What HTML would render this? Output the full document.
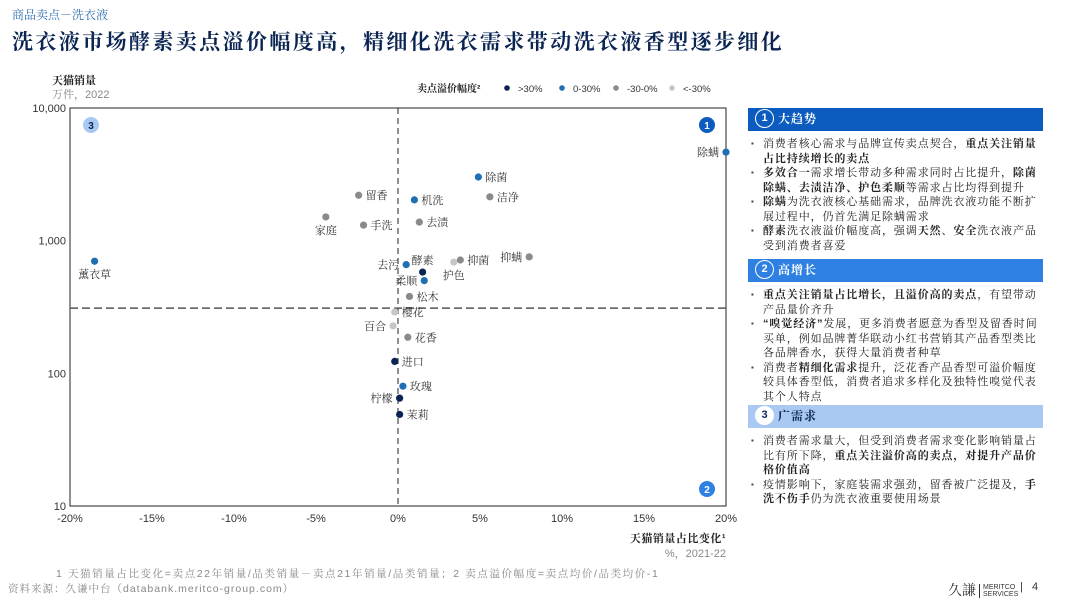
<!DOCTYPE html>
<html><head><meta charset="utf-8">
<style>
body{margin:0;width:1080px;height:607px;background:#fff;position:relative;overflow:hidden;font-family:"Liberation Sans","Noto Serif CJK SC","Noto Sans CJK SC",serif;}
.abs{position:absolute;}
.hdr{position:absolute;left:748px;width:295px;height:23px;color:#fff;font-size:12px;font-weight:bold;line-height:23px;letter-spacing:1px;}
.circ{display:inline-block;width:17px;height:17px;border:1.5px solid #fff;border-radius:50%;text-align:center;line-height:17px;font-size:11px;margin:1px 4px 0 7px;vertical-align:top;letter-spacing:0;}
ul{position:absolute;left:750px;width:296px;margin:0;padding:0;list-style:none;font-size:11px;letter-spacing:0.9px;line-height:14.5px;color:#222;}
li{padding-left:13px;position:relative;}
li:before{content:"▪";position:absolute;left:1px;font-size:8px;color:#444;}
b{font-weight:bold;}
</style></head><body>
<div class="abs" style="left:12px;top:6px;font-size:12px;color:#2f6fb0;">商品卖点－洗衣液</div>
<div class="abs" style="left:12px;top:26px;font-size:21px;font-weight:bold;color:#0b2553;letter-spacing:2.4px;">洗衣液市场酵素卖点溢价幅度高，精细化洗衣需求带动洗衣液香型逐步细化</div>
<div class="abs" style="left:52px;top:72px;font-size:11px;font-weight:bold;color:#222;">天猫销量</div>
<div class="abs" style="left:52px;top:86px;font-size:11px;color:#888;">万件，2022</div>
<svg id="chart" class="abs" style="left:0;top:0" width="740" height="560"></svg>
<div class="abs" style="left:580px;top:530px;width:146px;text-align:right;font-size:11px;font-weight:bold;color:#222;letter-spacing:0.5px;">天猫销量占比变化¹</div>
<div class="abs" style="left:600px;top:545px;width:126px;text-align:right;font-size:11px;color:#888;">%，2021-22</div>

<div class="hdr" style="top:108px;background:#0b5cbe;"><span class="circ">1</span>大趋势</div>
<ul style="top:137px;">
<li>消费者核心需求与品牌宣传卖点契合，<b>重点关注销量占比持续增长的卖点</b></li>
<li><b>多效合一</b>需求增长带动多种需求同时占比提升，<b>除菌除螨、去渍洁净、护色柔顺</b>等需求占比均得到提升</li>
<li><b>除螨</b>为洗衣液核心基础需求，品牌洗衣液功能不断扩展过程中，仍首先满足除螨需求</li>
<li><b>酵素</b>洗衣液溢价幅度高，强调<b>天然</b>、<b>安全</b>洗衣液产品受到消费者喜爱</li>
</ul>
<div class="hdr" style="top:259px;background:#2f80e3;"><span class="circ">2</span>高增长</div>
<ul style="top:288px;">
<li><b>重点关注销量占比增长，且溢价高的卖点</b>，有望带动产品量价齐升</li>
<li><b>“嗅觉经济”</b>发展，更多消费者愿意为香型及留香时间买单，例如品牌菁华联动小红书营销其产品香型类比各品牌香水，获得大量消费者种草</li>
<li>消费者<b>精细化需求</b>提升，泛花香产品香型可溢价幅度较具体香型低，消费者追求多样化及独特性嗅觉代表其个人特点</li>
</ul>
<div class="hdr" style="top:405px;background:#a9c9f2;color:#0b2553;"><span class="circ" style="background:#fff;color:#0b2553;border-color:#fff;">3</span>广需求</div>
<ul style="top:434px;">
<li>消费者需求量大，但受到消费者需求变化影响销量占比有所下降，<b>重点关注溢价高的卖点，对提升产品价格价值高</b></li>
<li>疫情影响下，家庭装需求强劲，留香被广泛提及，<b>手洗不伤手</b>仍为洗衣液重要使用场景</li>
</ul>

<div class="abs" style="left:56px;top:566px;font-size:10.5px;color:#888;letter-spacing:1.6px;">1 天猫销量占比变化=卖点22年销量/品类销量－卖点21年销量/品类销量；2 卖点溢价幅度=卖点均价/品类均价-1</div>
<div class="abs" style="left:8px;top:581px;font-size:10.5px;color:#888;letter-spacing:1px;">资料来源：久谦中台（databank.meritco-group.com）</div>
<div class="abs" style="left:948px;top:580px;font-size:14px;color:#333;">久謙<span style="display:inline-block;font-size:7px;line-height:7px;border-left:1px solid #333;padding-left:3px;margin-left:3px;vertical-align:middle;">MERITCO<br>SERVICES</span></div>
<div class="abs" style="left:1020px;top:581px;font-size:11px;color:#333;">|&nbsp;&nbsp;&nbsp;4</div>

<script>
const labels=["除螨","除菌","洁净","留香","机洗","家庭","手洗","去渍","薰衣草","抑螨","抑菌","护色","去污","酵素","柔顺","松木","樱花","百合","花香","进口","玫瑰","柠檬","茉莉"];
const shareChange=[20,4.9,5.6,-2.4,1.0,-4.4,-2.1,1.3,-18.5,8.0,3.8,3.4,0.5,1.5,1.6,0.7,-0.2,-0.3,0.6,-0.2,0.3,0.1,0.1];
const sales=[4650,3020,2140,2200,2030,1510,1310,1380,700,755,715,690,660,580,500,380,290,228,187,123,80,65,49];
const premiumGroup=[1,1,2,2,1,2,2,2,1,2,2,3,1,0,1,2,3,3,2,0,1,0,0];
const labelSide=["l","r","r","r","r","b","r","r","b","l","r","b","l","tr","l","r","r","l","r","r","r","l","r"];
const groupNames=[">30%","0-30%","-30-0%","<-30%"];
const xTicks=[-20,-15,-10,-5,0,5,10,15,20];
const yTicks=[10,100,1000,10000];
const dividerX=0, dividerY=310;
const colors=["#0b2553","#1f6fb2","#8a8a8a","#c6c6c6"];
const L=70,R=726,T=108,B=506;
const sx=v=>L+(v+20)/40*(R-L);
const sy=v=>B-(Math.log10(v)-1)/3*(B-T);
const svg=document.getElementById('chart');const NS="http://www.w3.org/2000/svg";
function mk(t,a,p){const e=document.createElementNS(NS,t);for(const k in a)e.setAttribute(k,a[k]);(p||svg).appendChild(e);return e;}
let e=mk('rect',{x:L,y:T,width:R-L,height:B-T,fill:'none',stroke:'#222','stroke-width':1});


e=mk('line',{x1:sx(dividerX),x2:sx(dividerX),y1:T,y2:B,stroke:'#222','stroke-dasharray':'6,4'});


e=mk('line',{x1:L,x2:R,y1:sy(dividerY),y2:sy(dividerY),stroke:'#555','stroke-width':1.5,'stroke-dasharray':'8,4'});


xTicks.forEach(t=>{const tx=mk('text',{x:sx(t),y:B+16,'text-anchor':'middle','font-size':11,fill:'#333'});tx.textContent=t+'%';

});
yTicks.forEach(t=>{const tx=mk('text',{x:L-4,y:sy(t)+4,'text-anchor':'end','font-size':11,fill:'#333'});tx.textContent=t.toLocaleString('en-US');

});
[[91,125,'3','#a9c9f2','#0b2553'],[707,125,'1','#0b5cbe','#fff'],[707,489,'2','#2f80e3','#fff']].forEach(b=>{
const c=mk('circle',{cx:b[0],cy:b[1],r:8,fill:b[3]});


const t=mk('text',{x:b[0],y:b[1]+4,'text-anchor':'middle','font-size':10,'font-weight':'bold',fill:b[4]});t.textContent=b[2];});
let lt=mk('text',{x:417,y:92,'font-size':10,'font-weight':'bold',fill:'#222'});lt.textContent='卖点溢价幅度²';


const lx=[507,562,616,672];
groupNames.forEach((g,i)=>{const c=mk('circle',{cx:lx[i],cy:88,r:2.8,fill:colors[i]});


const t=mk('text',{x:lx[i]+11,y:92,'font-size':9.5,fill:'#333'});t.textContent=g;});
labels.forEach((lab,i)=>{const x=sx(shareChange[i]),y=sy(sales[i]);
const c=mk('circle',{cx:x,cy:y,r:3.6,fill:colors[premiumGroup[i]]});


let s=labelSide[i],tx=x+7,ty=y+4,an='start';
if(s==='l'){tx=x-7;an='end';}
if(s==='b'){tx=x;ty=y+17;an='middle';}
if(s==='tr'){tx=x;ty=y-8;an='middle';}
const t=mk('text',{x:tx,y:ty,'text-anchor':an,'font-size':11,fill:'#333'});t.textContent=lab;

});
</script>
</body></html>
